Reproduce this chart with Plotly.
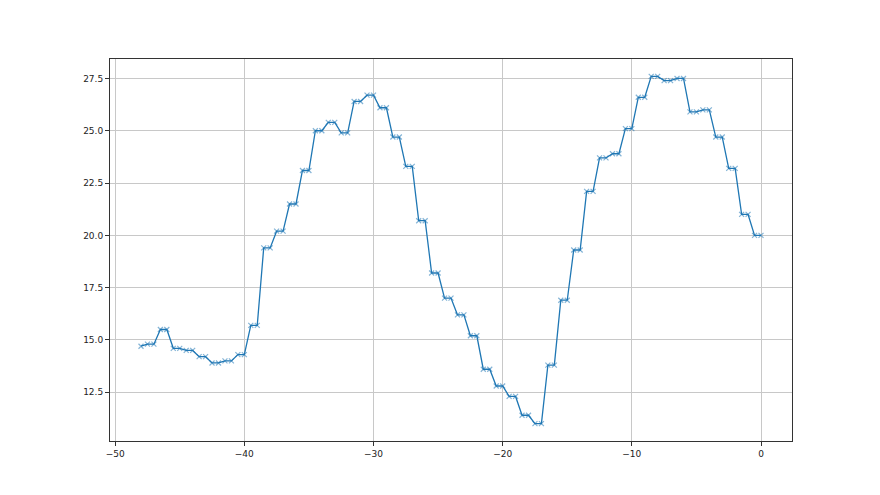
import numpy as np
import plotly.graph_objects as go

# half-hourly samples from -48 h to 0 h
hours = np.arange(-48, 0.5, 0.5).tolist()
temperature = [
    14.7,
    14.8, 14.8, 15.5, 15.5, 14.6, 14.6, 14.5, 14.5, 14.2, 14.2,
    13.9, 13.9, 14.0, 14.0, 14.3, 14.3, 15.7, 15.7,
    19.4, 19.4, 20.2, 20.2, 21.5, 21.5, 23.1, 23.1, 25.0, 25.0,
    25.4, 25.4, 24.9, 24.9, 26.4, 26.4, 26.7, 26.7, 26.1, 26.1,
    24.7, 24.7, 23.3, 23.3, 20.7, 20.7, 18.2, 18.2, 17.0, 17.0,
    16.2, 16.2, 15.2, 15.2, 13.6, 13.6, 12.8, 12.8, 12.3, 12.3,
    11.4, 11.4, 11.0, 11.0, 13.8, 13.8, 16.9, 16.9, 19.3, 19.3,
    22.1, 22.1, 23.7, 23.7, 23.9, 23.9, 25.1, 25.1, 26.6, 26.6,
    27.6, 27.6, 27.4, 27.4, 27.5, 27.5, 25.9, 25.9, 26.0, 26.0,
    24.7, 24.7, 23.2, 23.2, 21.0, 21.0, 20.0, 20.0,
]

fig = go.Figure()
fig.add_trace(go.Scatter(
    x=hours, y=temperature, mode="lines+markers",
    line=dict(color="#1f77b4", width=1.3),
    marker=dict(symbol="x-thin", size=5,
                line=dict(color="rgba(31,119,180,0.55)", width=1.2),
                color="#1f77b4"),
    showlegend=False,
))

axis_common = dict(
    showgrid=True, gridcolor="#c8c8c8", gridwidth=0.8,
    showline=True, linecolor="#333333", linewidth=1, mirror=True,
    ticks="outside", ticklen=4, tickcolor="#333333", tickwidth=1,
    zeroline=False,
    tickfont=dict(family="DejaVu Sans", size=9, color="#222222"),
)

ymin, ymax = min(temperature), max(temperature)
ypad = (ymax - ymin) * 0.05
xpad = (max(hours) - min(hours)) * 0.05

fig.update_layout(
    width=880, height=495,
    margin=dict(l=102, r=96, t=51, b=62),
    paper_bgcolor="white", plot_bgcolor="white",
    xaxis=dict(range=[min(hours) - xpad, max(hours) + xpad],
               tick0=0, dtick=10, **axis_common),
    yaxis=dict(range=[ymin - ypad, ymax + ypad],
               tick0=0, dtick=2.5, tickformat=".1f", **axis_common),
)

fig.write_html("out.html")
